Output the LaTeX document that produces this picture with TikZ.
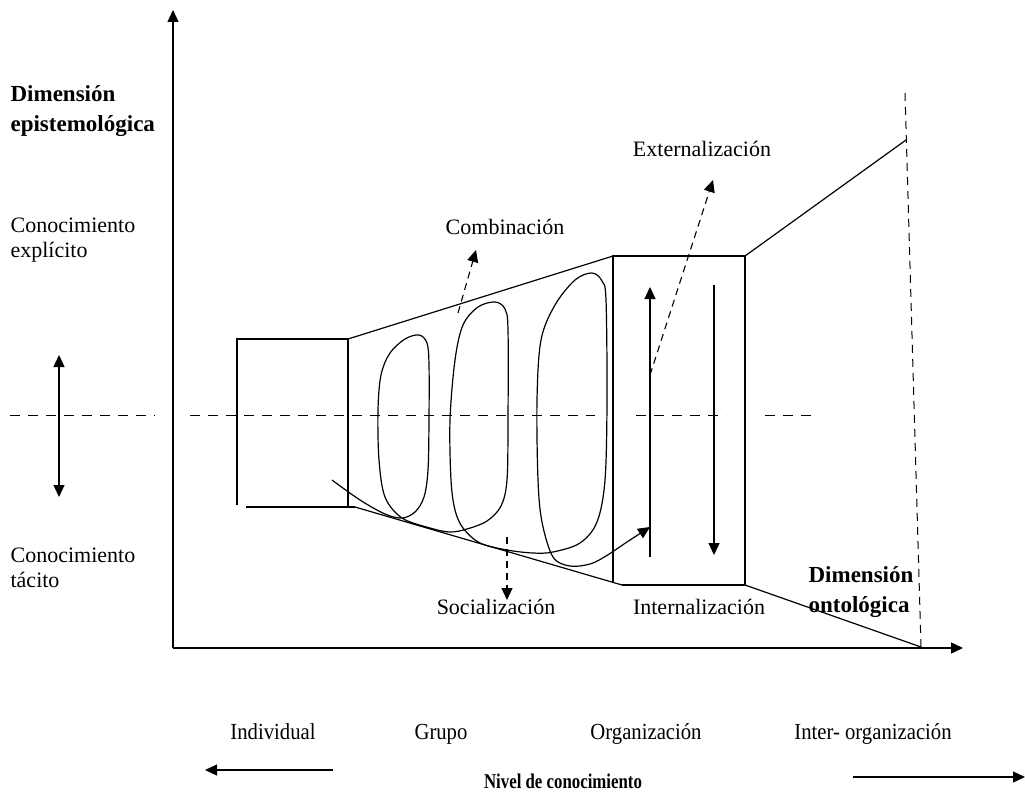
\documentclass[tikz,border=0pt]{standalone}
\usepackage{fontspec}
\setmainfont{Liberation Serif}
\usetikzlibrary{arrows.meta}
\begin{document}
\begin{tikzpicture}[x=1pt,y=-1pt,line width=1.2pt,
  tri/.style={-{Triangle[length=12pt,width=11pt]}},
  dtri/.style={{Triangle[length=12pt,width=11pt]}-{Triangle[length=12pt,width=11pt]}},
  hdash/.style={line width=0.9pt,dash pattern=on 10pt off 8pt},
  sdash/.style={line width=1.1pt,dash pattern=on 7pt off 5pt},
  lab/.style={inner sep=0pt,font=\fontsize{22}{25}\selectfont,align=left},
  blab/.style={inner sep=0pt,font=\bfseries\fontsize{23}{30}\selectfont,align=left},
  bot/.style={inner sep=0pt,anchor=base,font=\fontsize{23}{26}\selectfont,xscale=0.9}]
\useasboundingbox (0,0) rectangle (1025,792);

% axes
\coordinate (O) at (173,648);
\coordinate (Ytop) at (173,10);
\coordinate (Xend) at (963,648);
\draw[tri,line width=1.3pt] (O) -- (Ytop);
\draw[tri,line width=1.3pt] (O) -- (Xend);

% dashed middle line
\coordinate (d1a) at (10,415); \coordinate (d1b) at (155,415);
\coordinate (d2a) at (190,415); \coordinate (d2b) at (595,415);
\coordinate (d3a) at (636,415); \coordinate (d3b) at (726,415);
\coordinate (d4a) at (765,415); \coordinate (d4b) at (812,415);
\draw[hdash] (d1a) -- (d1b);
\draw[hdash] (d2a) -- (d2b);
\draw[hdash] (d3a) -- (d3b);
\draw[hdash] (d4a) -- (d4b);

% left double arrow
\coordinate (da) at (59,355); \coordinate (db) at (59,497);
\draw[dtri] (da) -- (db);

% left box
\coordinate (A1) at (237,505); \coordinate (A2) at (237,339);
\coordinate (A3) at (348,339); \coordinate (A4) at (348,507);
\coordinate (A5) at (246,507); \coordinate (A6) at (355,507);
\draw (A1) -- (A2) -- (A3) -- (A4);
\draw (A5) -- (A6);

% middle box
\coordinate (B1) at (613,256); \coordinate (B2) at (745,256);
\coordinate (B3) at (745,585); \coordinate (B4) at (622,585);
\coordinate (B5) at (613,583);
\draw (B5) -- (B1) -- (B2) -- (B3) -- (B4);

% funnel lines
\draw (A3) -- (B1);
\draw (A6) -- (B4);
\coordinate (C1) at (906,140);
\coordinate (C2) at (921,647);
\coordinate (C0) at (905,93);
\draw (B2) -- (C1);
\draw (B3) -- (C2);
\draw[line width=1.0pt,dash pattern=on 8pt off 6pt] (C0) -- (C2);

% internal arrows
\coordinate (u1) at (650,557); \coordinate (u2) at (650,287);
\coordinate (v1) at (714,285); \coordinate (v2) at (714,555);
\draw[tri] (u1) -- (u2);
\draw[tri] (v1) -- (v2);

% dashed arrows
\coordinate (e1) at (650,375); \coordinate (e2) at (713,180);
\draw[sdash,tri] (e1) -- (e2);
\coordinate (c1) at (458,313); \coordinate (c2) at (476,250);
\draw[sdash,tri] (c1) -- (c2);
\coordinate (s1) at (507,537); \coordinate (s2) at (507,600);
\draw[sdash,tri] (s1) -- (s2);

% spiral
\draw[tri] plot[smooth,tension=0.55] coordinates {
 (332,480) (360,500) (385,514) (402,518) (415,512) (424,497) (428,470)
 (429,420) (429,365) (427,343) (419,335) (405,339) (390,353) (381,375)
 (378,410) (379,460) (385,497) (402,518) (430,528) (450,532) (467,529)
 (487,521) (501,506) (507,480) (508,420) (508,330) (505,309) (495,302)
 (478,307) (463,325) (455,360) (450,420) (451,480) (455,510) (463,528)
 (480,543) (507,550) (533,553) (553,552) (580,543) (597,522) (605,480)
 (607,400) (606,300) (602,281) (592,273) (575,280) (555,305) (541,340)
 (537,400) (538,480) (542,522) (553,557) (570,566) (590,564) (606,556)
 (627,542) (650,527)};

% labels
\node[blab,anchor=west] (dep) at (10,111) {Dimensión\\epistemológica};
\node[lab,anchor=west] (cex) at (10,240) {Conocimiento\\explícito};
\node[lab,anchor=west] (cta) at (10,568) {Conocimiento\\tácito};
\node[lab] (comb) at (505,227) {Combinación};
\node[lab] (ext) at (702,149) {Externalización};
\node[lab] (soc) at (496,607) {Socialización};
\node[lab] (int) at (699,607) {Internalización};
\node[blab,anchor=west] (don) at (808,592) {Dimensión\\ontológica};

\node[bot] (ind) at (273,739) {Individual};
\node[bot] (gru) at (441,739) {Grupo};
\node[bot] (org) at (646,739) {Organización};
\node[bot] (inter) at (873,739) {Inter- organización};
\node[bot,font=\bfseries\fontsize{21}{24}\selectfont,xscale=0.89] (niv) at (563,788) {Nivel de conocimiento};

\coordinate (la) at (333,770); \coordinate (lb) at (205,770);
\draw[tri] (la) -- (lb);
\coordinate (ra) at (853,777); \coordinate (rb) at (1025,777);
\draw[tri] (ra) -- (rb);
\end{tikzpicture}
\end{document}
